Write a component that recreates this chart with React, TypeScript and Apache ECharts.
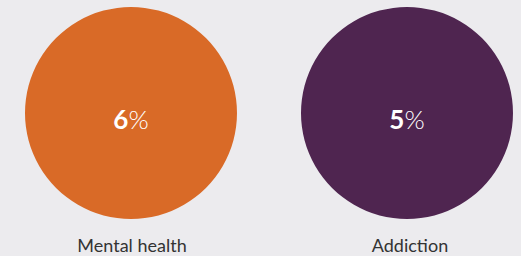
import React, { useEffect, useRef } from "react";
import * as echarts from "echarts";

const categories = ["Mental health", "Addiction"];
const values = [6, 5];
const colors = ["#d96a27", "#4f2550"];
const centersX = [131, 407];
const labelX = [127, 405];

export default function App() {
  const ref = useRef<HTMLDivElement>(null);
  useEffect(() => {
    document.body.style.margin = "0";
    const chart = echarts.init(ref.current!, null, { renderer: "svg" });
    chart.setOption({
      animation: false,
      backgroundColor: "#ecebee",
      title: categories.map((c, i) => ({
        text: c,
        left: labelX[i],
        top: 231,
        textAlign: "center",
        textStyle: { fontFamily: "Lato", fontSize: 18, fontWeight: "normal", color: "#333333" },
      })),
      series: categories.map((c, i) => ({
        type: "pie",
        name: c,
        center: [centersX[i], 113],
        radius: [0, 106],
        silent: true,
        data: [{ name: c, value: values[i] }],
        itemStyle: { color: colors[i] },
        label: {
          show: true,
          position: "center",
          offset: [0, 6],
          formatter: (p: any) => `{b|${p.value}}{p|%}`,
          rich: {
            b: { fontFamily: "Lato", fontSize: 26, fontWeight: "bold", color: "#ffffff" },
            p: { fontFamily: "Lato", fontSize: 26, fontWeight: 300, color: "#ffffff" },
          },
        },
        labelLine: { show: false },
      })),
    });
    return () => chart.dispose();
  }, []);
  return <div ref={ref} style={{ width: 521, height: 256 }} />;
}
